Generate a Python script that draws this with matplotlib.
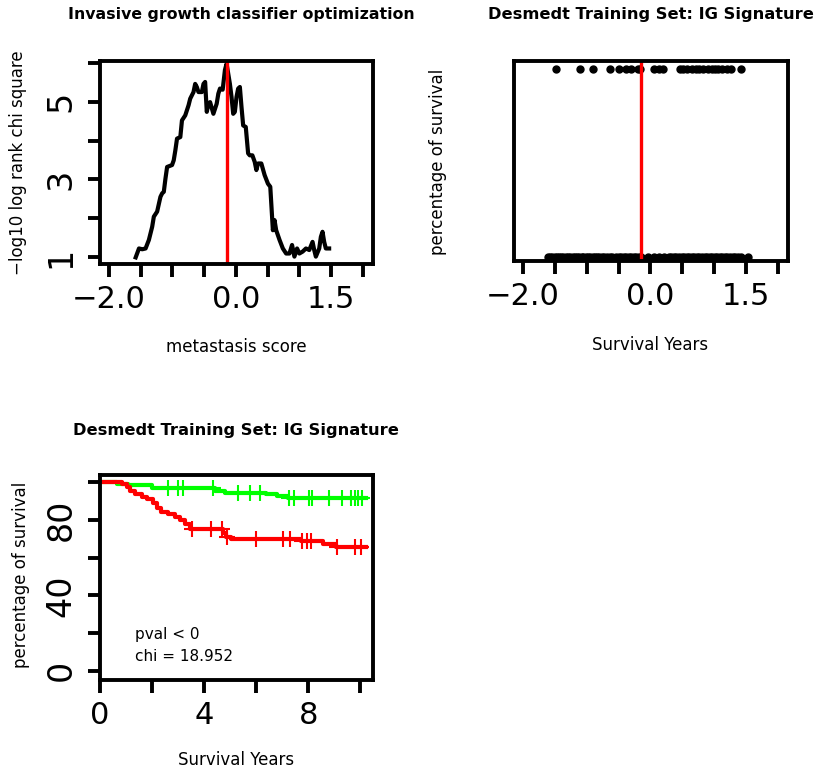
import numpy as np
import matplotlib
matplotlib.use("Agg")
import matplotlib.pyplot as plt

# panel 1: optimization curve (metastasis score vs -log10 chi square)
score = [-1.578, -1.526, -1.474, -1.422, -1.370, -1.318, -1.292, -1.240, -1.188, -1.161,
         -1.135, -1.109, -1.083, -1.005, -0.979, -0.953, -0.927, -0.875, -0.849, -0.797,
         -0.745, -0.719, -0.667, -0.641, -0.615, -0.589, -0.536, -0.510, -0.484, -0.458,
         -0.432, -0.406, -0.354, -0.302, -0.276, -0.250, -0.208, -0.172, -0.146, -0.094,
         -0.068, -0.042, -0.016, 0.010, 0.036, 0.063, 0.089, 0.115, 0.156, 0.193,
         0.219, 0.260, 0.297, 0.323, 0.349, 0.401, 0.453, 0.505, 0.542, 0.583,
         0.609, 0.635, 0.688, 0.740, 0.792, 0.844, 0.885, 0.922, 0.964, 1.000,
         1.052, 1.104, 1.156, 1.208, 1.234, 1.260, 1.313, 1.339, 1.365, 1.391,
         1.417, 1.469]
chisq = [0.99, 1.22, 1.20, 1.22, 1.44, 1.78, 2.04, 2.17, 2.55, 2.64,
         2.68, 3.02, 3.32, 3.37, 3.49, 3.75, 4.05, 4.09, 4.52, 4.65,
         4.91, 5.08, 5.25, 5.46, 5.38, 5.25, 5.25, 5.46, 5.51, 4.74,
         4.95, 4.99, 4.69, 4.95, 5.21, 5.34, 5.31, 5.82, 5.98, 5.46,
         5.12, 4.69, 4.74, 5.12, 5.34, 5.38, 4.86, 4.39, 4.35, 3.67,
         3.62, 3.62, 3.45, 3.24, 3.41, 3.41, 3.11, 2.89, 2.81, 1.69,
         1.95, 1.69, 1.44, 1.22, 1.09, 1.09, 1.31, 1.01, 1.22, 1.09,
         1.14, 1.22, 1.18, 1.39, 1.18, 1.01, 1.22, 1.52, 1.65, 1.39,
         1.22, 1.22]
cutoff = -0.14

# panel 2: samples with event (top row) and without (bottom row)
event_scores = [-1.48, -1.10, -0.90, -0.63, -0.50, -0.39, -0.31, -0.20, -0.16, 0.05,
                0.13, 0.20, 0.47, 0.52, 0.58, 0.65, 0.71, 0.77, 0.83, 0.90,
                0.96, 1.02, 1.06, 1.13, 1.20, 1.26, 1.42]
noevent_scores = [-1.61, -1.57, -1.54, -1.50, -1.47, -1.44, -1.40, -1.37, -1.33, -1.30,
                  -1.26, -1.22, -1.19, -1.15, -1.12, -1.08, -1.05, -1.01, -0.98, -0.94,
                  -0.90, -0.87, -0.83, -0.80, -0.76, -0.72, -0.68, -0.64, -0.60, -0.54,
                  -0.50, -0.46, -0.42, -0.38, -0.34, -0.30, -0.26, -0.22, -0.18, -0.15,
                  -0.03, 0.05, 0.13, 0.21, 0.29, 0.33, 0.37, 0.41, 0.45, 0.49,
                  0.53, 0.57, 0.61, 0.65, 0.69, 0.73, 0.77, 0.81, 0.85, 0.89,
                  0.93, 0.97, 1.01, 1.05, 1.09, 1.13, 1.17, 1.21, 1.25, 1.29,
                  1.33, 1.37, 1.42, 1.53]

# panel 3: Kaplan-Meier curves
green_t = [0, 0.64, 1.09, 1.98, 4.40, 4.79, 6.39, 6.80, 7.22, 10.22]
green_s = [100, 99.3, 98.6, 96.8, 95.6, 94.5, 93.8, 92.7, 91.5, 91.5]
green_cens = [2.62, 3.00, 3.20, 4.33, 5.28, 5.76, 6.13, 7.26, 7.45, 8.03, 8.15,
              8.80, 9.30, 9.65, 9.80, 9.92, 10.05]
red_t = [0, 0.83, 1.02, 1.15, 1.34, 1.60, 1.79, 2.04, 2.17, 2.36, 2.62, 2.87,
         3.07, 3.26, 3.45, 4.72, 4.85, 5.04, 7.73, 8.56, 9.07, 10.22]
red_s = [100, 99.1, 97.7, 95.5, 93.8, 92.4, 91.0, 88.8, 86.2, 84.4, 83.2, 81.7,
         80.0, 77.9, 75.1, 73.3, 71.1, 69.7, 68.8, 67.2, 65.8, 65.8]
red_cens = [3.55, 4.28, 4.67, 4.86, 6.00, 7.02, 7.30, 7.74, 7.93, 8.11, 9.08,
            9.79, 10.03]

W, H = 814, 773
fig = plt.figure(figsize=(W / 100, H / 100), dpi=100)


def px_axes(l, t, r, b):
    return fig.add_axes([l / W, 1 - b / H, (r - l) / W, (b - t) / H])


def r_style(ax):
    for s in ax.spines.values():
        s.set_linewidth(2.8)
    ax.tick_params(direction="out", length=9, width=2.8, pad=6)
    ax.tick_params(axis="x", labelsize=22)
    ax.tick_params(axis="y", labelsize=24, pad=7)
    for lab in ax.get_yticklabels():
        lab.set_rotation(90)
        lab.set_va("center")


def ftext(x, y, s, **kw):
    fig.text(x / W, 1 - y / H, s, ha="center", va="center", **kw)


score_ticks = np.arange(-2.0, 2.01, 0.5)
score_labels = ["−2.0" if abs(t + 2) < 1e-9 else "0.0" if abs(t) < 1e-9
                else "1.5" if abs(t - 1.5) < 1e-9 else "" for t in score_ticks]

# panel 1
ax1 = px_axes(100, 61, 373, 264)
ax1.plot(score, chisq, color="black", lw=3.0)
ax1.axvline(cutoff, color="red", lw=2.4)
ax1.set_xlim(-2.14, 2.16)
ax1.set_ylim(0.82, 6.05)
ax1.set_xticks(score_ticks)
ax1.set_xticklabels(score_labels)
ax1.set_yticks([1, 2, 3, 4, 5, 6])
ax1.set_yticklabels(["1", "", "3", "", "5", ""])
r_style(ax1)

# panel 2
ax2 = px_axes(514, 61, 788, 261)
ax2.plot(event_scores, np.ones(len(event_scores)), "o", color="black", ms=5)
ax2.plot(noevent_scores, np.zeros(len(noevent_scores)), "o", color="black", ms=5)
ax2.axvline(cutoff, color="red", lw=2.4)
ax2.set_xlim(-2.14, 2.16)
ax2.set_ylim(-0.021, 1.04)
ax2.set_xticks(score_ticks)
ax2.set_xticklabels(score_labels)
ax2.set_yticks([])
r_style(ax2)

# panel 3
ax3 = px_axes(100, 475, 373, 680)
for t, s, cens, col in [(green_t, green_s, green_cens, "#00ff00"),
                        (red_t, red_s, red_cens, "#ff0000")]:
    ax3.step(t, s, where="post", color=col, lw=3.0)
    lvl = [s[np.searchsorted(t, c, side="right") - 1] for c in cens]
    ax3.plot(cens, lvl, "+", color=col, ms=11, mew=1.5)
ax3.set_xlim(0, 10.48)
ax3.set_ylim(-4.9, 103.9)
ax3.set_xticks([0, 2, 4, 6, 8, 10])
ax3.set_xticklabels(["0", "", "4", "", "8", ""])
ax3.set_yticks([0, 20, 40, 60, 80, 100])
ax3.set_yticklabels(["0", "", "40", "", "80", ""])
r_style(ax3)
ax3.text(1.34, 19, "pval < 0", fontsize=11, va="center")
ax3.text(1.34, 7.4, "chi = 18.952", fontsize=11, va="center")

# titles and axis labels
ftext(241, 15, "Invasive growth classifier optimization", fontsize=11.3, fontweight="bold")
ftext(651, 15, "Desmedt Training Set: IG Signature", fontsize=11.7, fontweight="bold")
ftext(236, 430, "Desmedt Training Set: IG Signature", fontsize=11.7, fontweight="bold")
ftext(18, 163, "−log10 log rank chi square", fontsize=12, rotation=90)
ftext(236, 347, "metastasis score", fontsize=12)
ftext(438, 162, "percentage of survival", fontsize=12, rotation=90)
ftext(650, 345, "Survival Years", fontsize=12)
ftext(21, 575, "percentage of survival", fontsize=12, rotation=90)
ftext(236, 760, "Survival Years", fontsize=12)

fig.savefig("out.png", dpi=100)
